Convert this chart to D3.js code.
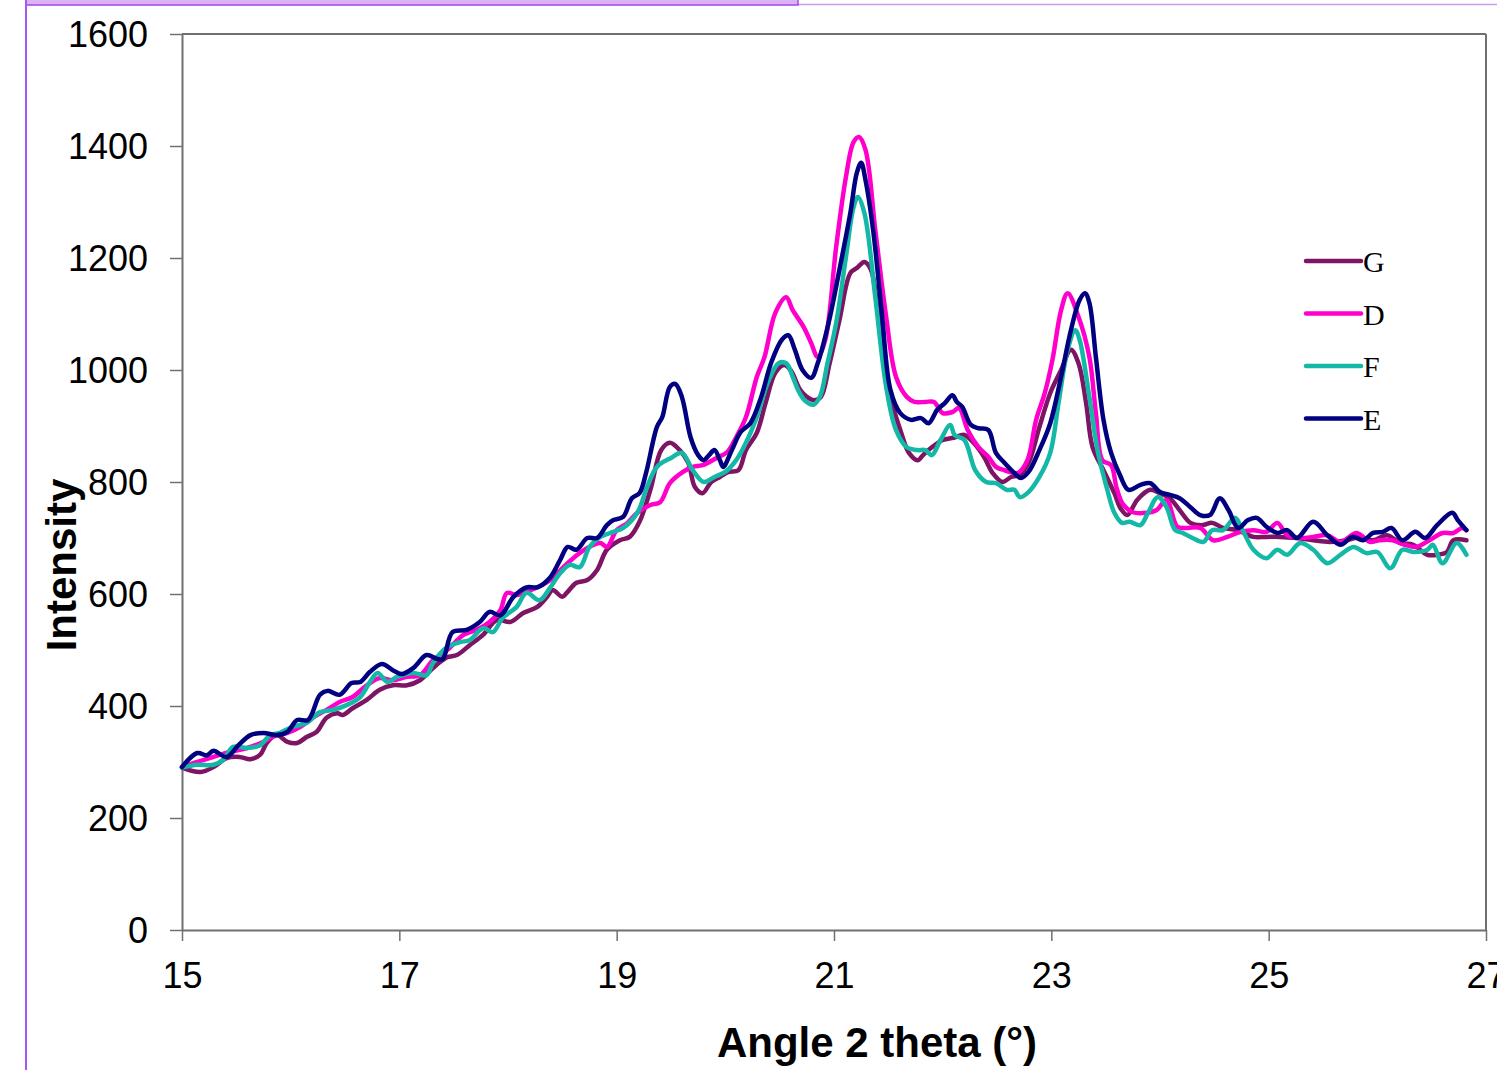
<!DOCTYPE html>
<html>
<head>
<meta charset="utf-8">
<script src="https://cdn.jsdelivr.net/npm/d3@7"></script>
<style>
  body { margin: 0; background: #fff; }
  svg { display: block; }
</style>
</head>
<body>
<svg id="chart" width="1497" height="1070"></svg>
<script>
// series as [angle, intensity] pairs
var seriesG = [[15.00,290],[15.17,282],[15.29,291],[15.41,307],[15.53,309],[15.63,305],[15.72,313],[15.78,334],[15.87,348],[15.97,336],[16.06,334],[16.15,345],[16.24,354],[16.33,379],[16.43,387],[16.48,384],[16.57,396],[16.70,411],[16.82,429],[16.94,437],[17.07,437],[17.19,446],[17.31,468],[17.44,487],[17.53,491],[17.65,509],[17.77,527],[17.90,554],[18.02,550],[18.14,566],[18.27,577],[18.36,595],[18.41,607],[18.50,595],[18.54,602],[18.63,620],[18.73,625],[18.82,643],[18.91,679],[19.03,696],[19.12,702],[19.21,729],[19.31,786],[19.41,857],[19.49,870],[19.58,857],[19.66,834],[19.72,791],[19.79,780],[19.87,800],[19.95,809],[20.03,818],[20.12,821],[20.19,857],[20.29,888],[20.37,941],[20.46,995],[20.54,1009],[20.60,1000],[20.69,964],[20.75,952],[20.82,946],[20.88,952],[20.96,1012],[21.05,1089],[21.15,1173],[21.21,1182],[21.28,1193],[21.34,1179],[21.41,1095],[21.51,959],[21.61,893],[21.69,852],[21.77,839],[21.82,848],[21.90,862],[22.00,875],[22.10,879],[22.20,884],[22.28,871],[22.38,845],[22.46,816],[22.55,800],[22.63,809],[22.71,813],[22.79,834],[22.89,898],[22.99,959],[23.09,1000],[23.18,1036],[23.25,1012],[23.32,941],[23.38,862],[23.48,821],[23.58,780],[23.64,752],[23.70,741],[23.79,768],[23.91,786],[24.00,780],[24.09,771],[24.18,750],[24.28,727],[24.39,723],[24.48,727],[24.58,718],[24.71,714],[24.86,702],[24.98,702],[25.10,702],[25.26,700],[25.41,696],[25.56,693],[25.72,696],[25.84,702],[25.96,696],[26.09,705],[26.21,691],[26.33,688],[26.46,670],[26.55,670],[26.64,675],[26.70,696],[26.82,696]];

var seriesD = [[15.00,291],[15.14,300],[15.29,309],[15.44,318],[15.60,325],[15.75,336],[15.87,348],[15.97,352],[16.09,363],[16.21,380],[16.33,393],[16.45,407],[16.57,416],[16.70,437],[16.82,450],[16.94,446],[17.07,452],[17.19,455],[17.31,482],[17.44,500],[17.59,527],[17.71,536],[17.83,550],[17.93,571],[17.99,602],[18.08,598],[18.17,604],[18.27,612],[18.39,625],[18.51,648],[18.60,664],[18.73,682],[18.85,691],[18.91,684],[19.00,714],[19.10,727],[19.19,745],[19.31,759],[19.40,764],[19.49,798],[19.61,818],[19.70,827],[19.79,830],[19.92,843],[20.02,854],[20.10,880],[20.19,916],[20.29,988],[20.36,1023],[20.46,1102],[20.56,1130],[20.62,1107],[20.72,1077],[20.79,1048],[20.85,1023],[20.92,1054],[21.02,1220],[21.11,1345],[21.18,1407],[21.23,1416],[21.29,1393],[21.38,1250],[21.48,1095],[21.57,988],[21.67,952],[21.74,943],[21.84,943],[21.92,943],[22.00,923],[22.09,925],[22.15,932],[22.23,893],[22.33,862],[22.42,845],[22.49,827],[22.57,821],[22.69,816],[22.78,839],[22.86,911],[22.94,959],[23.01,1018],[23.09,1107],[23.15,1137],[23.25,1095],[23.35,1023],[23.41,923],[23.47,839],[23.55,830],[23.60,790],[23.66,760],[23.75,746],[23.88,745],[23.97,750],[24.06,768],[24.16,720],[24.25,718],[24.37,718],[24.49,696],[24.62,702],[24.74,711],[24.86,714],[24.98,711],[25.08,727],[25.17,705],[25.29,700],[25.41,702],[25.54,705],[25.66,693],[25.81,709],[25.93,693],[26.02,696],[26.14,696],[26.25,688],[26.36,684],[26.48,696],[26.60,709],[26.70,709],[26.78,718],[26.82,714]];

var seriesF = [[15.00,290],[15.14,295],[15.29,295],[15.38,304],[15.47,327],[15.60,325],[15.72,330],[15.81,348],[15.90,352],[16.02,363],[16.15,370],[16.27,389],[16.39,393],[16.52,402],[16.64,416],[16.73,443],[16.80,459],[16.89,443],[16.98,452],[17.13,459],[17.25,455],[17.31,477],[17.44,505],[17.56,514],[17.65,518],[17.77,539],[17.86,532],[17.95,557],[18.08,577],[18.17,602],[18.29,589],[18.39,612],[18.48,637],[18.57,652],[18.66,648],[18.75,684],[18.85,702],[18.97,711],[19.06,718],[19.19,745],[19.28,791],[19.37,827],[19.50,843],[19.60,852],[19.70,821],[19.80,800],[19.90,809],[20.00,818],[20.10,839],[20.19,870],[20.29,916],[20.39,977],[20.49,1012],[20.56,1012],[20.62,988],[20.67,964],[20.73,946],[20.81,938],[20.87,952],[20.94,1012],[21.02,1084],[21.11,1202],[21.18,1291],[21.22,1309],[21.28,1280],[21.38,1130],[21.48,970],[21.57,893],[21.67,862],[21.77,857],[21.84,857],[21.90,848],[21.98,875],[22.07,902],[22.11,884],[22.20,875],[22.30,821],[22.40,800],[22.49,798],[22.59,786],[22.66,786],[22.71,773],[22.79,782],[22.89,809],[22.99,852],[23.07,946],[23.15,1036],[23.22,1071],[23.26,1054],[23.35,952],[23.43,852],[23.51,790],[23.58,745],[23.65,727],[23.72,729],[23.82,723],[23.89,745],[23.98,773],[24.06,755],[24.14,714],[24.21,709],[24.30,700],[24.40,693],[24.48,714],[24.58,714],[24.69,736],[24.76,714],[24.86,679],[24.98,664],[25.08,679],[25.17,670],[25.29,691],[25.41,679],[25.54,655],[25.66,670],[25.78,684],[25.90,673],[26.00,675],[26.12,646],[26.23,679],[26.33,675],[26.46,679],[26.51,688],[26.60,655],[26.73,691],[26.82,670]];

var seriesE = [[15.00,291],[15.14,316],[15.23,312],[15.29,320],[15.41,309],[15.52,330],[15.63,348],[15.75,352],[15.87,348],[15.97,354],[16.06,375],[16.16,375],[16.27,420],[16.34,427],[16.45,420],[16.56,441],[16.64,443],[16.73,461],[16.84,475],[16.94,464],[17.02,457],[17.13,468],[17.25,491],[17.35,484],[17.40,484],[17.49,532],[17.62,536],[17.74,550],[17.83,568],[17.93,562],[18.05,595],[18.17,612],[18.27,612],[18.39,630],[18.48,661],[18.55,684],[18.63,679],[18.73,700],[18.82,700],[18.91,723],[18.97,732],[19.06,738],[19.14,771],[19.21,780],[19.27,816],[19.37,898],[19.42,916],[19.49,970],[19.54,975],[19.60,952],[19.68,880],[19.75,848],[19.80,839],[19.85,848],[19.90,857],[19.95,839],[19.98,827],[20.06,857],[20.14,889],[20.23,905],[20.33,952],[20.42,1012],[20.52,1054],[20.58,1062],[20.64,1036],[20.71,1000],[20.79,986],[20.85,1012],[20.95,1084],[21.05,1179],[21.15,1280],[21.21,1352],[21.25,1370],[21.29,1339],[21.36,1250],[21.44,1102],[21.52,964],[21.61,923],[21.71,911],[21.80,914],[21.87,905],[21.95,929],[22.02,941],[22.09,955],[22.13,943],[22.18,934],[22.26,902],[22.33,896],[22.42,893],[22.49,852],[22.57,834],[22.66,816],[22.72,807],[22.79,818],[22.89,857],[22.99,905],[23.09,988],[23.18,1071],[23.26,1125],[23.31,1137],[23.35,1120],[23.41,1023],[23.48,911],[23.55,852],[23.63,813],[23.71,786],[23.82,795],[23.91,798],[24.00,782],[24.09,777],[24.18,771],[24.28,755],[24.37,741],[24.46,741],[24.55,771],[24.63,750],[24.72,718],[24.81,732],[24.89,736],[24.98,720],[25.08,709],[25.17,714],[25.26,700],[25.41,729],[25.54,705],[25.66,688],[25.77,702],[25.87,696],[25.96,709],[26.05,711],[26.13,718],[26.23,696],[26.35,711],[26.44,700],[26.55,723],[26.69,745],[26.74,732],[26.82,714]];

var seriesNames = ["G", "D", "F", "E"];
var seriesColors = ["#7d1464", "#ff00cc", "#14b8a6", "#000080"];
var xTicks = [15, 17, 19, 21, 23, 25, 27];
var yTicks = [0, 200, 400, 600, 800, 1000, 1200, 1400, 1600];

var margin = {top: 34, left: 182, right: 11, bottom: 140};
var width = 1497, height = 1070;
var chartWidth = width - margin.left - margin.right;
var chartHeight = height - margin.top - margin.bottom;

var svg = d3.select("#chart");

// slide frame bits at the top and left
svg.append("line").attr("x1", 798).attr("x2", width).attr("y1", 4.5).attr("y2", 4.5)
  .attr("stroke", "#c79af5").attr("stroke-width", 1.5);
svg.append("rect").attr("x", 26).attr("y", -2).attr("width", 772).attr("height", 7)
  .attr("fill", "#dcb2f2").attr("stroke", "#a347f0").attr("stroke-width", 1.5);
svg.append("line").attr("x1", 26).attr("x2", 26).attr("y1", 0).attr("y2", height)
  .attr("stroke", "#a855f7").attr("stroke-width", 2);

var g = svg.append("g").attr("transform", "translate(" + [margin.left, margin.top] + ")");

var x = d3.scaleLinear().domain([15, 27]).range([0, chartWidth]);
var y = d3.scaleLinear().domain([0, 1600]).range([chartHeight, 0]);

// plot frame (top and right)
g.append("line").attr("x1", 0).attr("x2", chartWidth).attr("y1", 0).attr("y2", 0)
  .attr("stroke", "#707070").attr("stroke-width", 2);
g.append("line").attr("x1", chartWidth).attr("x2", chartWidth).attr("y1", 0).attr("y2", chartHeight)
  .attr("stroke", "#707070").attr("stroke-width", 2);

var xAxis = g.append("g")
  .attr("transform", "translate(0," + chartHeight + ")")
  .call(d3.axisBottom(x).tickValues(xTicks).tickSize(11).tickPadding(21).tickSizeOuter(0));
var yAxis = g.append("g")
  .call(d3.axisLeft(y).tickValues(yTicks).tickFormat(d3.format("d")).tickSize(12).tickPadding(22).tickSizeOuter(0));

[xAxis, yAxis].forEach(function(ax) {
  ax.select(".domain").attr("stroke", "#707070").attr("stroke-width", 2);
  ax.selectAll(".tick line").attr("stroke", "#707070").attr("stroke-width", 1.5);
  ax.selectAll(".tick text")
    .attr("fill", "#000")
    .style("font-family", "'Liberation Sans', Arial, sans-serif")
    .style("font-size", "36px");
});
yAxis.selectAll(".tick text").attr("dy", "0.36em");

var line = d3.line()
  .x(function(d) { return x(d[0]); })
  .y(function(d) { return y(d[1]); })
  .curve(d3.curveCatmullRom.alpha(0.5));

var allSeries = [seriesG, seriesD, seriesF, seriesE];
allSeries.forEach(function(s, i) {
  g.append("path")
    .datum(s)
    .attr("fill", "none")
    .attr("stroke", seriesColors[i])
    .attr("stroke-width", 4.5)
    .attr("stroke-linejoin", "round")
    .attr("stroke-linecap", "round")
    .attr("d", line);
});

// axis titles
svg.append("text")
  .attr("x", 877).attr("y", 1057)
  .attr("text-anchor", "middle")
  .style("font-family", "'Liberation Sans', Arial, sans-serif")
  .style("font-size", "42px").style("font-weight", "bold")
  .text("Angle 2 theta (°)");

svg.append("text")
  .attr("transform", "translate(76,565) rotate(-90)")
  .attr("text-anchor", "middle")
  .style("font-family", "'Liberation Sans', Arial, sans-serif")
  .style("font-size", "42px").style("font-weight", "bold")
  .text("Intensity");

// legend
var legend = svg.append("g").attr("transform", "translate(1306,261)");
seriesNames.forEach(function(name, i) {
  var row = legend.append("g").attr("transform", "translate(0," + (i * 52.5) + ")");
  row.append("line").attr("x1", 0).attr("x2", 55).attr("y1", 0).attr("y2", 0)
    .attr("stroke", seriesColors[i]).attr("stroke-width", 4.5).attr("stroke-linecap", "round");
  row.append("text").attr("x", 57).attr("y", 11)
    .style("font-family", "'Liberation Serif', 'Times New Roman', serif")
    .style("font-size", "30px")
    .text(name);
});
</script>
</body>
</html>
